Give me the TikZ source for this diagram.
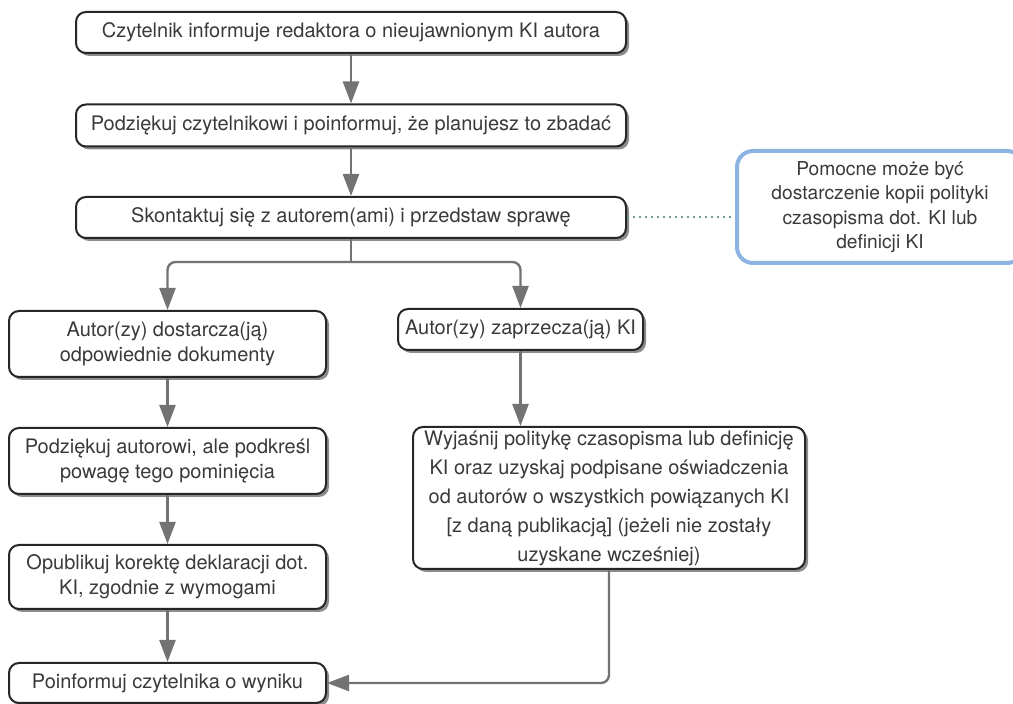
\documentclass[tikz,border=0pt]{standalone}
\usepackage{fontspec}
\setmainfont{TeX Gyre Heros}
\usepackage{tikz}
\usetikzlibrary{arrows.meta,shadows}

\definecolor{flowgray}{HTML}{737373}
\definecolor{noteblue}{HTML}{8DB3E2}
\definecolor{dotgreen}{HTML}{6E9A96}
\definecolor{textgray}{HTML}{3A3A3A}

\tikzset{
	stepbox/.style={draw=black!85, line width=1pt, rounded corners=5pt, fill=white, align=center, inner sep=0pt, text=textgray, font=\fontsize{10}{12.5}\selectfont, drop shadow={shadow xshift=1.5pt, shadow yshift=-1.5pt, fill=black!45, opacity=1}},
	notebox/.style={draw=noteblue, line width=2pt, rounded corners=8pt, align=center, inner sep=0pt, text=textgray, font=\fontsize{9.6}{12.25}\selectfont},
	flow/.style={draw=flowgray, line width=1.2pt, rounded corners=4pt, -{Triangle[width=8pt,length=11pt]}},
	link/.style={draw=flowgray, line width=1.2pt},
	hint/.style={draw=dotgreen, line width=1pt, dotted}
}

\begin{document}
\begin{tikzpicture}[x=0.5pt,y=-0.5pt]
		\useasboundingbox (0,0) rectangle (1013,704);

		\node[stepbox, minimum width=275pt, minimum height=20.5pt] (report) at (351,32.5) {Czytelnik informuje redaktora o nieujawnionym KI autora};
		\node[stepbox, minimum width=275pt, minimum height=21pt] (thank) at (351,125.5) {Podziękuj czytelnikowi i poinformuj, że planujesz to zbadać};
		\node[stepbox, minimum width=275pt, minimum height=20.5pt] (contact) at (351,217.5) {Skontaktuj się z autorem(ami) i przedstaw sprawę};
		\node[notebox, minimum width=143pt, minimum height=56pt] (note) at (880,207) {Pomocne może być\\dostarczenie kopii polityki\\czasopisma dot. KI lub\\definicji KI};

		\node[stepbox, minimum width=158.5pt, minimum height=33pt] (provide) at (167.5,344) {Autor(zy) dostarcza(ją)\\odpowiednie dokumenty};
		\node[stepbox, minimum width=122.5pt, minimum height=20.5pt] (deny) at (520.5,329.5) {Autor(zy) zaprzecza(ją) KI};
		\node[stepbox, minimum width=158.5pt, minimum height=33pt] (stress) at (167.5,461) {Podziękuj autorowi, ale podkreśl\\powagę tego pominięcia};
		\node[stepbox, minimum width=158.5pt, minimum height=32pt] (publish) at (167.5,577) {Opublikuj korektę deklaracji dot.\\KI, zgodnie z wymogami};
		\node[stepbox, minimum width=158.5pt, minimum height=20pt] (tell) at (167.5,683) {Poinformuj czytelnika o wyniku};
		\node[stepbox, minimum width=196pt, minimum height=71pt, font=\fontsize{10}{14.5}\selectfont] (explain) at (609,498) {Wyjaśnij politykę czasopisma lub definicję\\KI oraz uzyskaj podpisane oświadczenia\\od autorów o wszystkich powiązanych KI\\{[z daną publikacją]} (jeżeli nie zostały\\uzyskane wcześniej)};

		\draw[flow] (report) -- (thank);
		\draw[flow] (thank) -- (contact);
		\coordinate (split) at (351,262);
		\draw[link] (contact) -- (split);
		\draw[flow] (split) -| (provide);
		\draw[flow] (split) -| (deny);
		\draw[hint] (contact.east) -- (contact.east -| note.west);

		\draw[flow] (provide) -- (stress);
		\draw[flow] (stress) -- (publish);
		\draw[flow] (publish) -- (tell);
		\draw[flow] (deny) -- (deny |- explain.north);
		\draw[flow] (explain) |- (tell);
	\end{tikzpicture}
\end{document}
